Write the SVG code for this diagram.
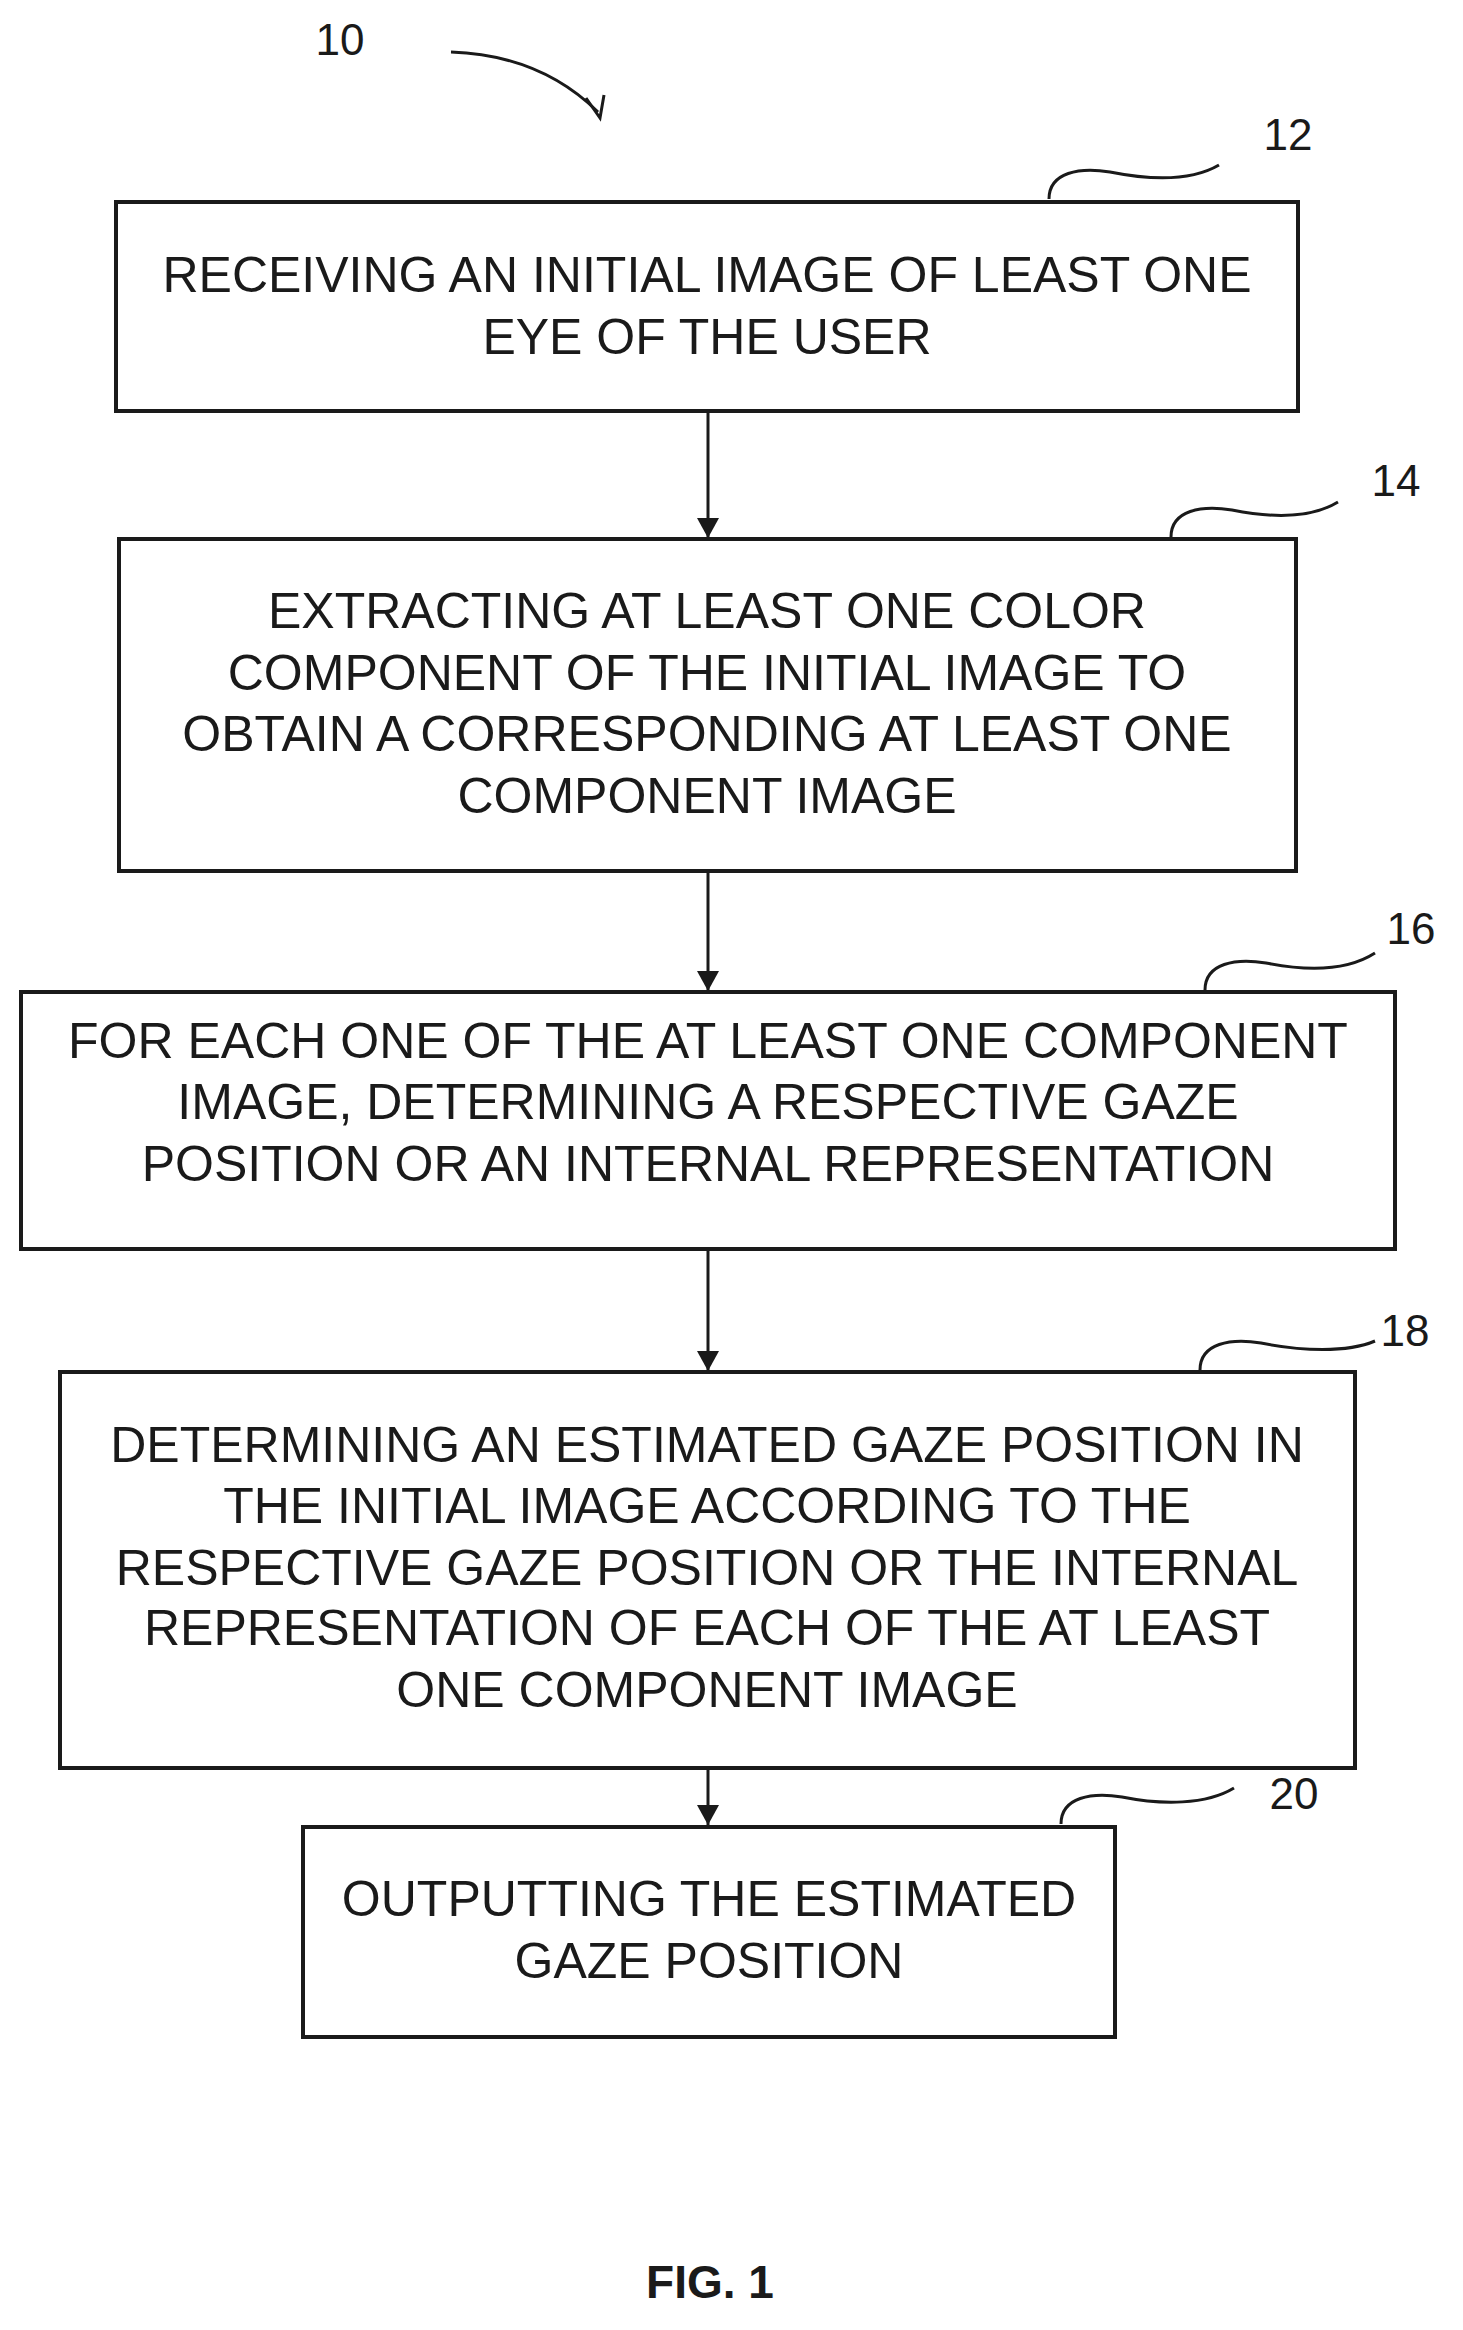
<svg xmlns="http://www.w3.org/2000/svg" width="1463" height="2330" viewBox="0 0 1463 2330">
<style>
.b{fill:#fff;stroke:#1a1a1a;stroke-width:4}
.t{font-family:"Liberation Sans",Arial,sans-serif;font-size:50px;fill:#1a1a1a;text-anchor:middle}
.n{font-family:"Liberation Sans",Arial,sans-serif;font-size:44px;fill:#1a1a1a;text-anchor:middle}
.c{fill:none;stroke:#1a1a1a;stroke-width:3}
</style>
<defs>
<marker id="h" markerWidth="22" markerHeight="22" refX="20" refY="11" orient="auto" markerUnits="userSpaceOnUse"><path d="M0,0L20,11L0,22z" fill="#1a1a1a"/></marker></defs>
<rect width="1463" height="2330" fill="#fff"/>
<g id="connectors">
<line class="c" x1="708" y1="411" x2="708" y2="538" marker-end="url(#h)"/>
<line class="c" x1="708" y1="871" x2="708" y2="991" marker-end="url(#h)"/>
<line class="c" x1="708" y1="1249" x2="708" y2="1371" marker-end="url(#h)"/>
<line class="c" x1="708" y1="1768" x2="708" y2="1825" marker-end="url(#h)"/>
<path class="c" d="M451,52 Q540,55 598,112"/>
<path d="M586,98 L600,118 L604,95" class="c"/>
<path class="c" d="M1049,199 C1049,172 1080,167 1110,172 C1150,180 1190,182 1219,165"/>
<path class="c" d="M1171,537 C1171,510 1202,505 1232,510 C1272,518 1310,519 1338,502"/>
<path class="c" d="M1205,990 C1205,963 1236,958 1266,963 C1306,971 1347,971 1375,953"/>
<path class="c" d="M1200,1370 C1200,1343 1231,1338 1261,1343 C1301,1351 1347,1353 1375,1341"/>
<path class="c" d="M1061,1824 C1061,1797 1092,1792 1122,1797 C1162,1805 1206,1805 1234,1788"/>
</g>
<text class="n" x="340" y="55">10</text>
<g id="n12"><rect class="b" x="116" y="202" width="1182" height="209"/>
<text class="t" x="707" y="292">RECEIVING AN INITIAL IMAGE OF LEAST ONE</text>
<text class="t" x="707" y="354">EYE OF THE USER</text>
<text class="n" x="1288" y="150">12</text></g>
<g id="n14"><rect class="b" x="119" y="539" width="1177" height="332"/>
<text class="t" x="707" y="628">EXTRACTING AT LEAST ONE COLOR</text>
<text class="t" x="707" y="690">COMPONENT OF THE INITIAL IMAGE TO</text>
<text class="t" x="707" y="751">OBTAIN A CORRESPONDING AT LEAST ONE</text>
<text class="t" x="707" y="813">COMPONENT IMAGE</text>
<text class="n" x="1396" y="496">14</text></g>
<g id="n16"><rect class="b" x="21" y="992" width="1374" height="257"/>
<text class="t" x="708" y="1058">FOR EACH ONE OF THE AT LEAST ONE COMPONENT</text>
<text class="t" x="708" y="1119">IMAGE, DETERMINING A RESPECTIVE GAZE</text>
<text class="t" x="708" y="1181">POSITION OR AN INTERNAL REPRESENTATION</text>
<text class="n" x="1411" y="944">16</text></g>
<g id="n18"><rect class="b" x="60" y="1372" width="1295" height="396"/>
<text class="t" x="707" y="1462">DETERMINING AN ESTIMATED GAZE POSITION IN</text>
<text class="t" x="707" y="1523">THE INITIAL IMAGE ACCORDING TO THE</text>
<text class="t" x="707" y="1585">RESPECTIVE GAZE POSITION OR THE INTERNAL</text>
<text class="t" x="707" y="1645">REPRESENTATION OF EACH OF THE AT LEAST</text>
<text class="t" x="707" y="1707">ONE COMPONENT IMAGE</text>
<text class="n" x="1405" y="1346">18</text></g>
<g id="n20"><rect class="b" x="303" y="1827" width="812" height="210"/>
<text class="t" x="709" y="1916">OUTPUTTING THE ESTIMATED</text>
<text class="t" x="709" y="1978">GAZE POSITION</text>
<text class="n" x="1294" y="1809">20</text></g>
<text x="710" y="2298" style="font-family:'Liberation Sans',Arial,sans-serif;font-size:46px;font-weight:bold;text-anchor:middle;fill:#1a1a1a">FIG. 1</text>
</svg>
